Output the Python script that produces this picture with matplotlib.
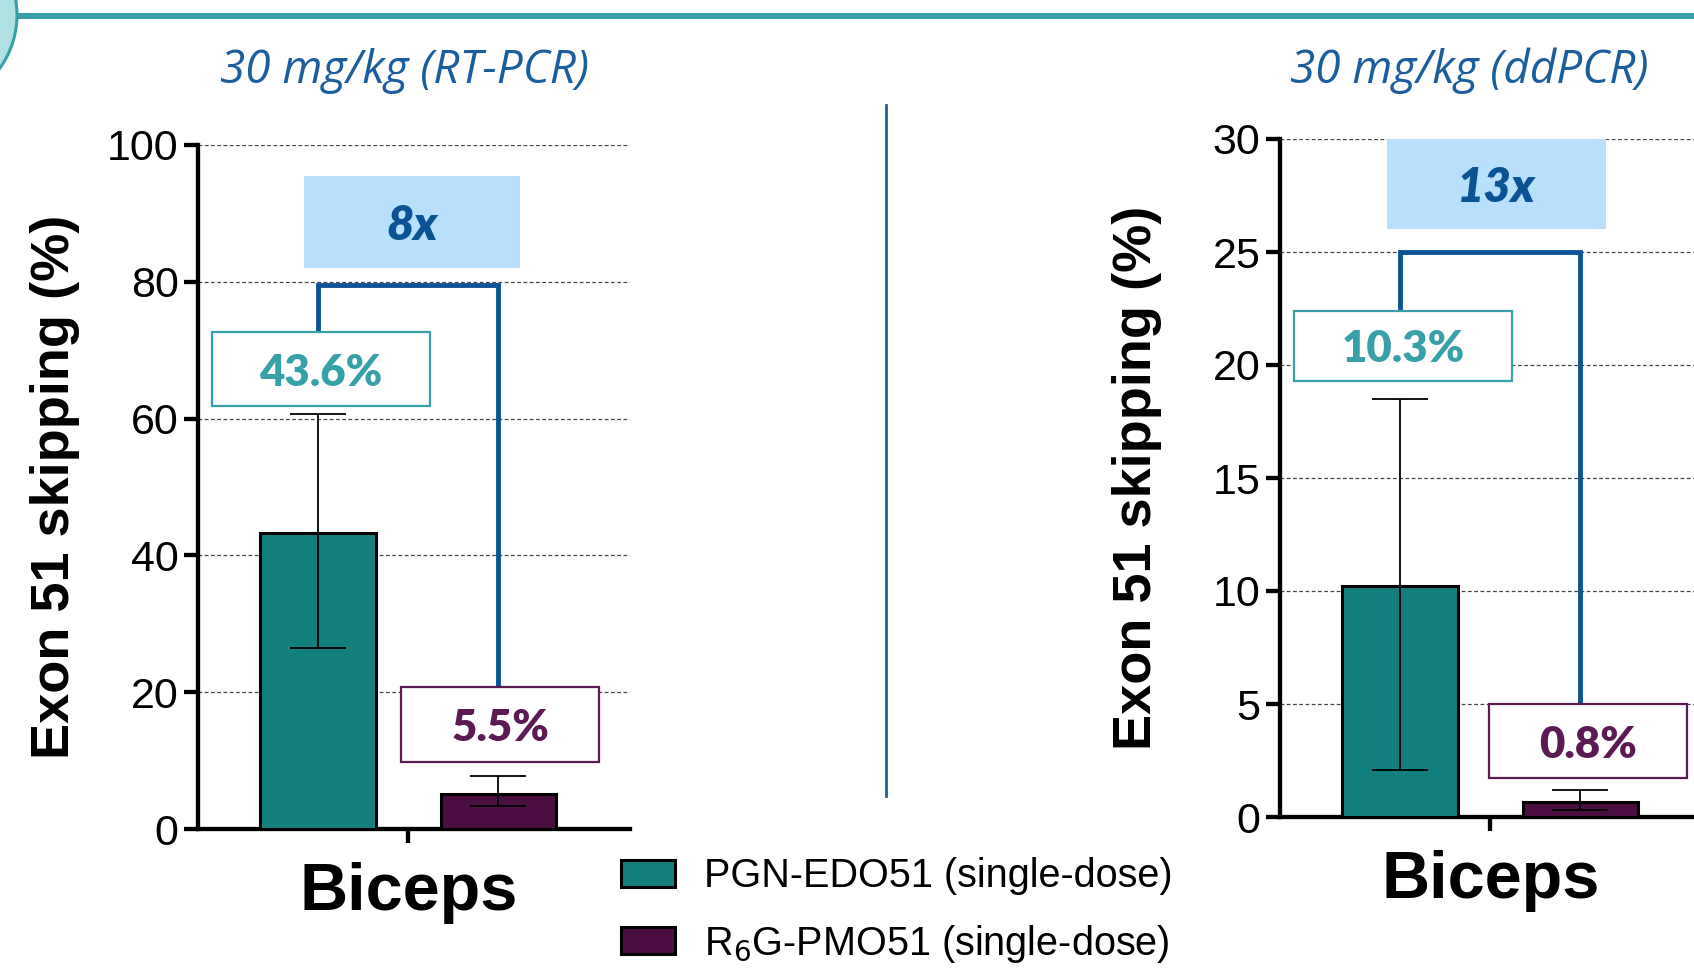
import matplotlib
matplotlib.use('Agg')
import matplotlib.pyplot as plt
from matplotlib.patches import Rectangle, Ellipse
from matplotlib.lines import Line2D

# data
groups = ['PGN-EDO51 (single-dose)', 'R$_6$G-PMO51 (single-dose)']
category = 'Biceps'

rt_mean = [43.3, 5.05]
rt_lo = [26.5, 3.3]
rt_hi = [60.7, 7.7]
rt_pct = ['43.6%', '5.5%']
rt_fold = '8x'
rt_ticks = [0, 20, 40, 60, 80, 100]

dd_mean = [10.2, 0.67]
dd_lo = [2.1, 0.33]
dd_hi = [18.5, 1.2]
dd_pct = ['10.3%', '0.8%']
dd_fold = '13x'
dd_ticks = [0, 5, 10, 15, 20, 25, 30]

BAR_COLORS = ['#13807f', '#4a0f40']
LABEL_COLORS = ['#38a0a8', '#5c1a55']
BLUE = '#0b5394'
TITLE_BLUE = '#1a5e9e'
FOLD_FILL = '#b8dffb'
TEAL_LINE = '#35a0a8'

SANS = ['Liberation Sans', 'DejaVu Sans']
CALIB = ['Lato', 'DejaVu Sans']
TITLE_FONT = ['Open Sans', 'DejaVu Sans']
plt.rcParams['font.family'] = SANS

W, H = 1694, 971
fig = plt.figure(figsize=(W / 100, H / 100), dpi=100)

OFF = 0.78


def draw_panel(ax, mean, lo, hi, pct, fold, ticks, title, lay):
    ymax = ticks[-1]
    xs = [-OFF, OFF]
    ax.set_xlim(-1.82, 1.92)
    ax.set_ylim(0, ymax)
    ax.set_axisbelow(True)
    ax.yaxis.grid(True, linestyle=(0, (3, 2)), color='#444444', lw=0.9)
    bars = ax.bar(xs, mean, width=1.0, color=BAR_COLORS, edgecolor='black',
                  linewidth=2.2, zorder=3)
    yerr = [[m - l for m, l in zip(mean, lo)], [h - m for m, h in zip(mean, hi)]]
    ax.errorbar(xs, mean, yerr=yerr, fmt='none', ecolor='black',
                elinewidth=1.3, capsize=20, capthick=1.3, zorder=4)

    # significance bracket
    b1_top = lay['box1_y'][1] * ymax
    b2_top = lay['box2_y'][1] * ymax
    by = lay['bracket'] * ymax
    ax.plot([-OFF, -OFF, OFF, OFF], [b1_top, by, by, b2_top], color=BLUE,
            lw=3.5, solid_joinstyle='miter', zorder=5, clip_on=False)

    # value boxes
    for i, key in enumerate(['box1', 'box2']):
        x0, x1 = lay[key + '_x']
        y0, y1 = [v * ymax for v in lay[key + '_y']]
        ax.add_patch(Rectangle((x0, y0), x1 - x0, y1 - y0, fc='white',
                               ec=LABEL_COLORS[i], lw=1.6, zorder=6,
                               clip_on=False))
        ax.text((x0 + x1) / 2, (y0 + y1) / 2, pct[i], ha='center',
                va='center_baseline', color=LABEL_COLORS[i], fontsize=31.5,
                fontweight='heavy', family=CALIB, zorder=7)

    # fold change box
    x0, x1 = lay['fold_x']
    y0, y1 = [v * ymax for v in lay['fold_y']]
    ax.add_patch(Rectangle((x0, y0), x1 - x0, y1 - y0, fc=FOLD_FILL,
                           ec='none', zorder=6, clip_on=False))
    ax.text((x0 + x1) / 2, (y0 + y1) / 2, fold, ha='center',
            va='center_baseline', color=BLUE, fontsize=34, fontweight='heavy',
            fontstyle='italic', family=CALIB, zorder=7)

    for s in ['top', 'right']:
        ax.spines[s].set_visible(False)
    for s in ['left', 'bottom']:
        ax.spines[s].set_linewidth(3.1)
    ax.set_yticks(ticks)
    ax.set_xticks([0], [category])
    ax.tick_params(axis='y', length=10, width=3.1, pad=4, labelsize=31)
    ax.tick_params(axis='x', length=10, width=3.1, pad=14, labelsize=48)
    for t in ax.get_xticklabels():
        t.set_fontweight('bold')
    ax.set_ylabel('Exon 51 skipping (%)', fontsize=39, fontweight='bold',
                  va='center')
    ax.yaxis.set_label_coords(-0.33, 0.5)
    ax.text(lay['title_x'], lay['title_y'], title, transform=ax.transAxes,
            ha='center', va='center', fontsize=33, fontstyle='italic',
            color=TITLE_BLUE, family=TITLE_FONT)
    return bars


ax1 = fig.add_axes([198 / W, 1 - 829 / H, 432 / W, 684 / H])
ax2 = fig.add_axes([1280 / W, 1 - 817 / H, 432 / W, 678 / H])

lay_rt = dict(box1_x=(-1.70, 0.19), box1_y=(0.618, 0.727),
              box2_x=(-0.06, 1.65), box2_y=(0.098, 0.207),
              fold_x=(-0.90, 0.97), fold_y=(0.82, 0.954),
              bracket=0.795, title_x=0.477, title_y=1.108)
lay_dd = dict(box1_x=(-1.70, 0.19), box1_y=(0.643, 0.747),
              box2_x=(-0.01, 1.70), box2_y=(0.057, 0.166),
              fold_x=(-0.89, 1.0), fold_y=(0.867, 1.0),
              bracket=0.833, title_x=0.4375, title_y=1.10)

bars = draw_panel(ax1, rt_mean, rt_lo, rt_hi, rt_pct, rt_fold, rt_ticks,
                  '30 mg/kg (RT-PCR)', lay_rt)
draw_panel(ax2, dd_mean, dd_lo, dd_hi, dd_pct, dd_fold, dd_ticks,
           '30 mg/kg (ddPCR)', lay_dd)

fig.legend([bars[0], bars[1]], groups, loc='upper left',
           bbox_to_anchor=(621 / W, 1 - 857 / H), frameon=False,
           borderpad=0, borderaxespad=0, fontsize=28.5,
           handlelength=1.36, handleheight=0.68, handletextpad=0.73,
           labelspacing=0.7)

# decorations: divider, top rule and corner circle
fig.add_artist(Line2D([886 / W, 886 / W], [1 - 105 / H, 1 - 796 / H],
                      color='#1f5f9a', lw=2.0))
fig.add_artist(Line2D([0, 1], [1 - 16 / H, 1 - 16 / H], color=TEAL_LINE,
                      lw=4.3))
fig.add_artist(Ellipse((-74 / W, 1 - 15 / H), 182 / W, 182 / H,
                       fc='#aee0e4', ec=TEAL_LINE, lw=2.2,
                       transform=fig.transFigure, zorder=10))

fig.savefig('out.png', dpi=100)
